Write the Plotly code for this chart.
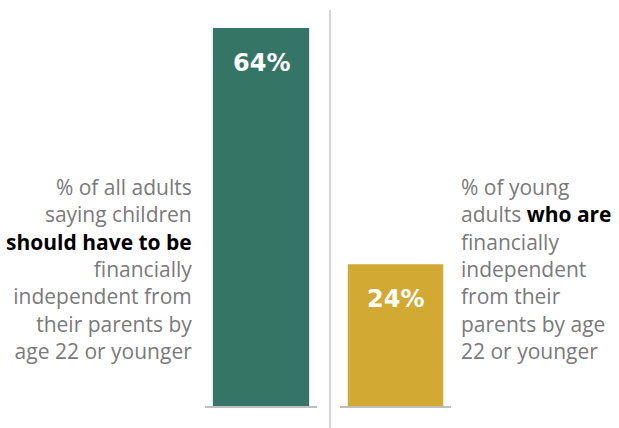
import plotly.graph_objects as go
from plotly.subplots import make_subplots

categories = ["Should have to be", "Who are"]
values = [64, 24]
value_labels = ["64%", "24%"]
colors = ["#357565", "#D2A932"]
left_text = ("% of all adults<br>saying children<br><b style='color:#000'>should have to be</b><br>"
             "financially<br>independent from<br>their parents by<br>age 22 or younger")
right_text = ("% of young<br>adults <b style='color:#000'>who are</b><br>financially<br>independent<br>"
              "from their<br>parents by age<br>22 or younger")

W, H = 619, 428
fig = make_subplots(rows=1, cols=2)

for i, (cat, v, lab, col) in enumerate(zip(categories, values, value_labels, colors)):
    fig.add_trace(go.Bar(x=[cat], y=[v], marker=dict(color=col, line=dict(width=0)),
                         width=0.86, hoverinfo="skip", showlegend=False), row=1, col=i + 1)
    fig.add_annotation(text=f"<b>{lab}</b>", x=cat, y=v, xref=f"x{i + 1 if i else ''}",
                       yref=f"y{i + 1 if i else ''}", yanchor="middle", yshift=-35,
                       showarrow=False,
                       font=dict(color="white", size=24, family="DejaVu Sans"))

ybot = 1 - 406 / H
ytop = 1 - 28 / H
fig.update_layout(
    width=W, height=H, margin=dict(l=0, r=0, t=0, b=0),
    paper_bgcolor="white", plot_bgcolor="white",
    xaxis=dict(domain=[205 / W, 317 / W], showticklabels=False, showgrid=False, zeroline=False,
               showline=True, linecolor="#bfbfbf", linewidth=2, fixedrange=True),
    xaxis2=dict(domain=[340 / W, 451 / W], showticklabels=False, showgrid=False, zeroline=False,
                showline=True, linecolor="#bfbfbf", linewidth=2, fixedrange=True),
    yaxis=dict(domain=[ybot, ytop], range=[0, max(values)], visible=False),
    yaxis2=dict(domain=[ybot, ytop], range=[0, max(values)], visible=False),
)

fig.add_shape(type="line", xref="paper", yref="paper", x0=330 / W, x1=330 / W,
              y0=0, y1=1 - 10 / H, line=dict(color="#c8c8c8", width=1.5))

font = dict(family="Open Sans", size=21, color="#7a7a7a")
fig.add_annotation(text=left_text, xref="paper", yref="paper", x=194 / W, y=1 - 269 / H,
                   xanchor="right", yanchor="middle", align="right", showarrow=False, font=font)
fig.add_annotation(text=right_text, xref="paper", yref="paper", x=459 / W, y=1 - 269 / H,
                   xanchor="left", yanchor="middle", align="left", showarrow=False, font=font)

fig.write_html("out.html")
